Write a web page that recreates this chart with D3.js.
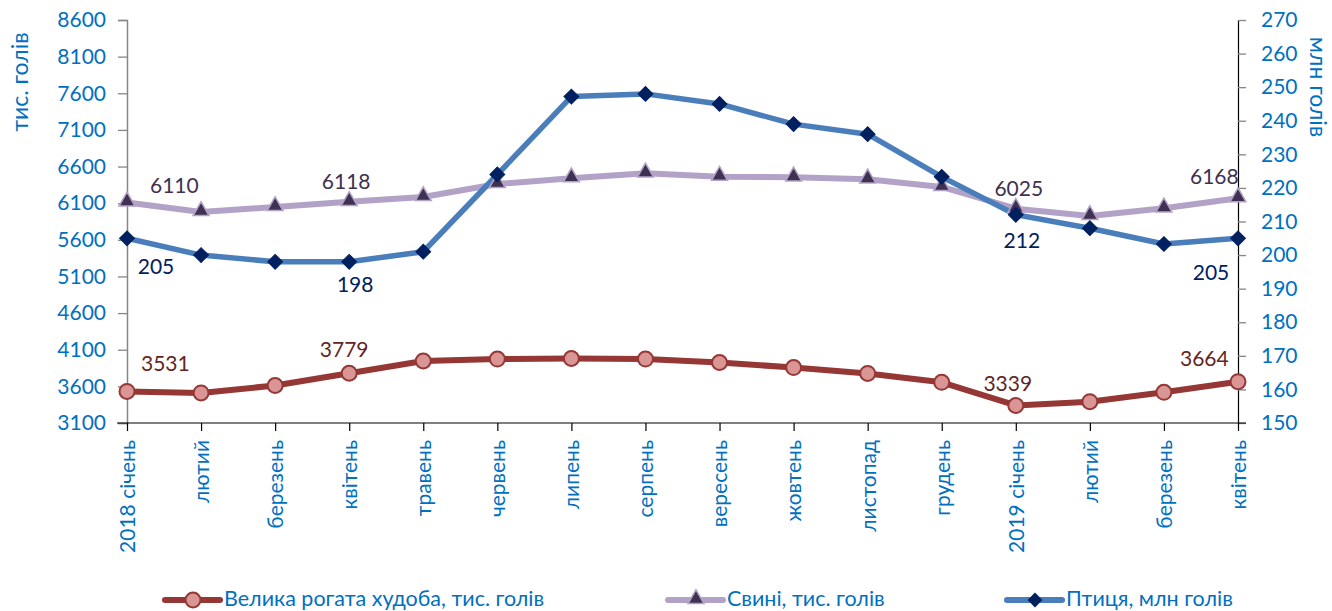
<!DOCTYPE html>
<html><head><meta charset="utf-8">
<script src="https://cdn.jsdelivr.net/npm/d3@7"></script>
<style>
body{margin:0;background:#fff;}
svg{display:block;font-family:Lato,"Open Sans",sans-serif;}
</style></head><body>
<svg id="c" width="1332" height="611"></svg>
<script>
const categories = ["2018 січень","лютий","березень","квітень","травень","червень","липень","серпень","вересень","жовтень","листопад","грудень","2019 січень","лютий","березень","квітень"];
const cattle = [3531,3510,3612,3779,3946,3973,3980,3973,3926,3857,3776,3655,3339,3391,3519,3664];
const pigs = [6110,5980,6048,6118,6185,6362,6440,6508,6462,6453,6426,6321,6025,5925,6030,6168];
const poultry = [205,200,198,198,201,224,247.2,248,245,239,236,223.3,212,208,203.3,205];
const leftTicks = d3.range(3100, 8601, 500);
const rightTicks = d3.range(150, 271, 10);
// labelled points: [index, dx, dy, anchor]
const cattleLabels = [[0,14,-28,"start"],[3,-5,-24,"middle"],[12,-8,-22,"middle"],[15,-58,-23,"start"]];
const pigLabels = [[0,23,-17,"start"],[3,-3,-20,"middle"],[12,3,-20,"middle"],[15,-48,-22,"start"]];
const poultryLabels = [[0,29,28,"middle"],[3,6,23,"middle"],[12,6,26,"middle"],[15,-27,34,"middle"]];

const svg = d3.select("#c");
const L = 127, R = 1238, T = 20, B = 423;
const x = d3.scalePoint().domain(d3.range(categories.length)).range([L, R]);
const yL = d3.scaleLinear().domain([3100, 8600]).range([B, T]);
const yR = d3.scaleLinear().domain([150, 270]).range([B, T]);
const blue = "#0070C0";

// left axis
const gl = svg.append("g").attr("transform", `translate(${L},0)`)
  .call(d3.axisLeft(yL).tickValues(leftTicks).tickSize(9).tickPadding(12).tickFormat(d3.format("d")));
gl.select(".domain").attr("stroke", "#868686").attr("stroke-width", 1.5);
gl.selectAll(".tick line").attr("stroke", "#868686").attr("stroke-width", 1.3);
gl.selectAll(".tick text").attr("fill", blue).style("font-size", "21px").style("font-family", "Lato");

// right axis
const gr = svg.append("g").attr("transform", `translate(${R},0)`)
  .call(d3.axisRight(yR).tickValues(rightTicks).tickSize(8).tickPadding(15).tickFormat(d3.format("d")));
gr.select(".domain").attr("stroke", "#000").attr("stroke-width", 1.2);
gr.selectAll(".tick line").attr("stroke", "#868686").attr("stroke-width", 1.3);
gr.selectAll(".tick text").attr("fill", blue).style("font-size", "21px").style("font-family", "Lato");

// x axis
const gx = svg.append("g").attr("transform", `translate(0,${B})`)
  .call(d3.axisBottom(x).tickSize(8).tickSizeOuter(0).tickFormat(i => categories[i]));
gx.select(".domain").attr("stroke", "#000").attr("stroke-width", 1.2).attr("d", `M${L-10},0H${R+8}`);
gx.selectAll(".tick line").attr("stroke", "#000").attr("stroke-width", 1.2);
gx.selectAll(".tick text").attr("fill", blue).style("font-size", "21px").style("font-family", "Lato")
  .attr("transform", "rotate(-90)").attr("text-anchor", "end").attr("x", -17).attr("y", 0).attr("dy", "0.35em");

// axis titles
svg.append("text").attr("transform", `translate(20,82) rotate(-90)`).attr("text-anchor", "middle")
  .attr("dy", "0.35em").attr("fill", blue).style("font-size", "23px").text("тис. голів");
svg.append("text").attr("transform", `translate(1318,87) rotate(90)`).attr("text-anchor", "middle")
  .attr("dy", "0.35em").attr("fill", blue).style("font-size", "23px").text("млн голів");

// lines
const lineL = d3.line().x((d, i) => x(i)).y(d => yL(d));
const lineR = d3.line().x((d, i) => x(i)).y(d => yR(d));
svg.append("path").datum(cattle).attr("d", lineL).attr("fill", "none").attr("stroke", "#953735").attr("stroke-width", 6).attr("stroke-linejoin", "round");
svg.append("path").datum(pigs).attr("d", lineL).attr("fill", "none").attr("stroke", "#B3A2C7").attr("stroke-width", 6).attr("stroke-linejoin", "round");
svg.append("path").datum(poultry).attr("d", lineR).attr("fill", "none").attr("stroke", "#4A7EBB").attr("stroke-width", 5.5).attr("stroke-linejoin", "round");

// markers
svg.append("g").selectAll("circle").data(cattle).join("circle")
  .attr("cx", (d, i) => x(i)).attr("cy", d => yL(d)).attr("r", 7.5)
  .attr("fill", "#D99694").attr("stroke", "#953735").attr("stroke-width", 2);
const tri = d3.symbol().type(d3.symbolTriangle).size(110);
svg.append("g").selectAll("path").data(pigs).join("path")
  .attr("transform", (d, i) => `translate(${x(i)},${yL(d) - 1})`).attr("d", tri)
  .attr("fill", "#3F3151").attr("stroke", "#B3A2C7").attr("stroke-width", 1.5);
const sq = d3.symbol().type(d3.symbolSquare).size(110);
svg.append("g").selectAll("path").data(poultry).join("path")
  .attr("transform", (d, i) => `translate(${x(i)},${yR(d)}) rotate(45)`).attr("d", sq)
  .attr("fill", "#002060").attr("stroke", "#002060").attr("stroke-width", 1);

// data labels
function labels(arr, data, scale, color) {
  svg.append("g").selectAll("text").data(arr).join("text")
    .attr("x", d => x(d[0]) + d[1]).attr("y", d => scale(data[d[0]]) + d[2])
    .attr("text-anchor", d => d[3]).attr("dy", "0.35em")
    .attr("fill", color).style("font-size", "21px").text(d => data[d[0]]);
}
labels(cattleLabels, cattle, yL, "#632523");
labels(pigLabels, pigs, yL, "#3F3151");
labels(poultryLabels, poultry, yR, "#002060");

// legend
const legend = [
  {name: "Велика рогата худоба, тис. голів", x: 165, color: "#953735", mk: "c"},
  {name: "Свині, тис. голів", x: 668, color: "#B3A2C7", mk: "t"},
  {name: "Птиця, млн голів", x: 1007, color: "#4A7EBB", mk: "d"}
];
const lg = svg.append("g").selectAll("g").data(legend).join("g").attr("transform", d => `translate(${d.x},600)`);
lg.append("line").attr("x1", 0).attr("x2", 55).attr("stroke", d => d.color).attr("stroke-width", 6).attr("stroke-linecap", "round");
lg.each(function(d) {
  const g = d3.select(this);
  if (d.mk === "c") g.append("circle").attr("cx", 28).attr("r", 7.5).attr("fill", "#D99694").attr("stroke", "#953735").attr("stroke-width", 2);
  if (d.mk === "t") g.append("path").attr("transform", "translate(28,-1)").attr("d", tri).attr("fill", "#3F3151").attr("stroke", "#B3A2C7").attr("stroke-width", 1.5);
  if (d.mk === "d") g.append("path").attr("transform", "translate(28,0) rotate(45)").attr("d", sq).attr("fill", "#002060");
});
lg.append("text").attr("x", 59).attr("dy", "0.3em").attr("fill", blue).style("font-size", "21.5px").text(d => d.name);
</script>
</body></html>
